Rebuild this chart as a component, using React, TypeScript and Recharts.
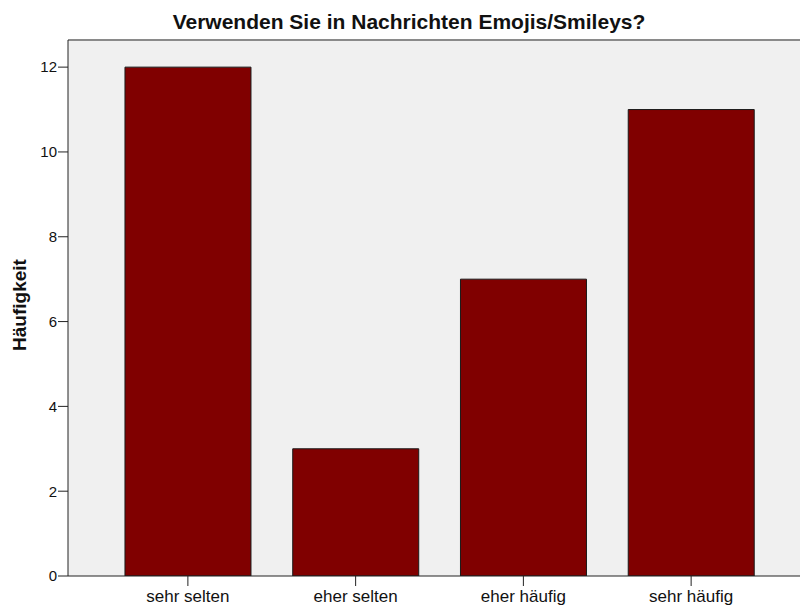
import React from 'react';
import { BarChart, Bar, XAxis, YAxis, CartesianGrid, ReferenceLine } from 'recharts';

const categories = ['sehr selten', 'eher selten', 'eher häufig', 'sehr häufig'];
const counts = [12, 3, 7, 11];
const yTicks = [0, 2, 4, 6, 8, 10, 12];
const yMax = 12.64;

const data = categories.map((name, i) => ({ name, value: counts[i] }));

const FONT = '"Liberation Sans", Arial, sans-serif';

const App: React.FC = () => {
  return (
    <div style={{ position: 'absolute', left: 0, top: 0, width: 800, height: 606, overflow: 'hidden', background: '#fff', fontFamily: FONT }}>
      <div
        style={{
          position: 'absolute',
          left: 0,
          top: 10,
          width: 818,
          textAlign: 'center',
          fontSize: 21,
          lineHeight: '24px',
          fontWeight: 'bold',
          color: '#111',
          whiteSpace: 'nowrap',
        }}
      >
        Verwenden Sie in Nachrichten Emojis/Smileys?
      </div>
      <div
        style={{
          position: 'absolute',
          left: 20,
          top: 305,
          transform: 'translate(-50%, -50%) rotate(-90deg)',
          fontSize: 19,
          fontWeight: 'bold',
          whiteSpace: 'nowrap',
          color: '#111',
        }}
      >
        Häufigkeit
      </div>
      <BarChart
        width={830}
        height={606}
        data={data}
        margin={{ top: 40, right: 19, bottom: 0, left: 0 }}
        barCategoryGap="12.5%"
      >
        <CartesianGrid fill="#F0F0F0" horizontal={false} vertical={false} stroke="none" />
        <ReferenceLine y={yMax} stroke="#8a8a8a" strokeWidth={2} />
        <XAxis
          dataKey="name"
          height={30}
          padding={{ left: 36, right: 36 }}
          tickSize={10}
          tickMargin={4}
          axisLine={{ stroke: '#222' }}
          tickLine={{ stroke: '#222' }}
          tick={{ fontSize: 17, fill: '#111', fontFamily: FONT }}
        />
        <YAxis
          width={68}
          type="number"
          domain={[0, yMax]}
          allowDataOverflow
          ticks={yTicks}
          tickSize={10}
          tickMargin={1}
          axisLine={{ stroke: '#222' }}
          tickLine={{ stroke: '#222' }}
          tick={{ fontSize: 15, fill: '#111', fontFamily: FONT }}
        />
        <Bar dataKey="value" fill="#800000" stroke="#1a1a1a" strokeWidth={1} isAnimationActive={false} />
      </BarChart>
    </div>
  );
};

export default App;
